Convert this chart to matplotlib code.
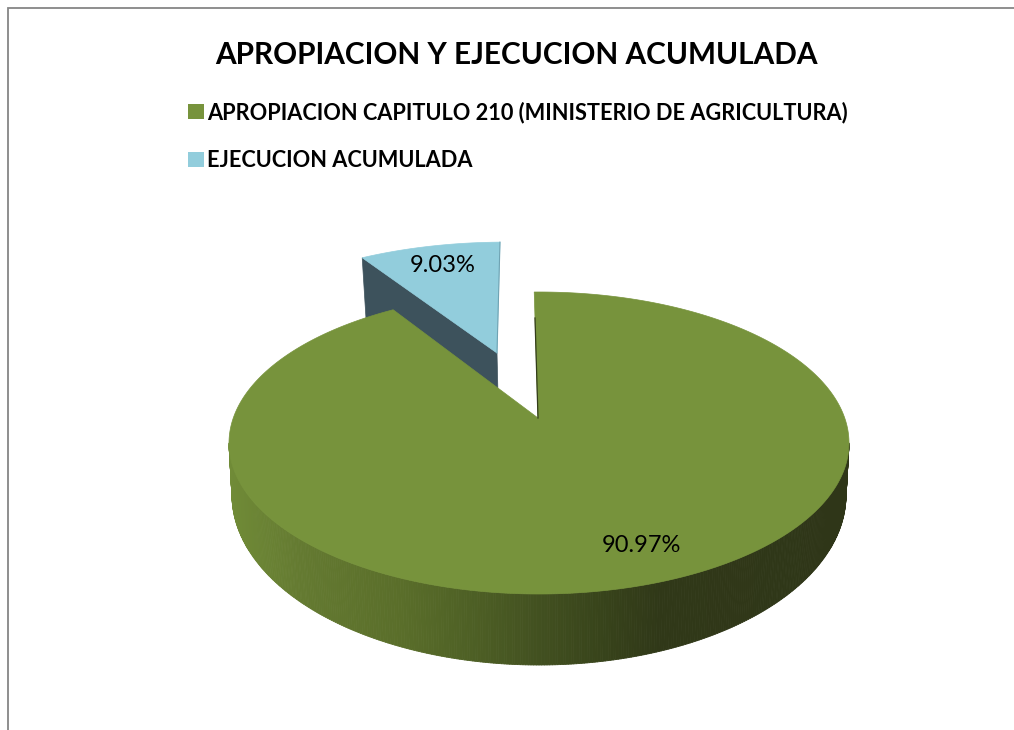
import numpy as np
import matplotlib
matplotlib.use("Agg")
import matplotlib.pyplot as plt
from matplotlib.collections import PolyCollection
from matplotlib.patches import Patch, Polygon

# --- data ---
title = "APROPIACION Y EJECUCION ACUMULADA"
categories = ["APROPIACION CAPITULO 210 (MINISTERIO DE AGRICULTURA)", "EJECUCION ACUMULADA"]
values = [90.97, 9.03]

# --- style / layout ---
GREEN, BLUE, BLUE_WALL = "#77933C", "#92CDDC", "#3D525C"
FONT = "Lato"
cx, cy, rx, ry = 539.0, 443.0, 310.0, 151.0       # top ellipse of the pie
bx, by, brx, bry = 539.0, 495.0, 307.0, 170.0     # bottom rim of the side wall
apex = np.array([538.0, 418.0])
slant = -0.03
blue_apex = np.array([497.0, 353.0])
blue_sx, blue_sy = 0.97, 0.88
blue_shear = -0.06

fig = plt.figure(figsize=(10.14, 7.30), dpi=100)
ax = fig.add_axes([0, 0, 1, 1])
ax.set_xlim(0, 1014)
ax.set_ylim(730, 0)
ax.axis("off")

# outer frame
ax.plot([8, 8, 1014], [730, 8, 8], color="#868686", lw=1.3, solid_joinstyle="miter", zorder=1)

share = np.array(values) / sum(values)
sweep = share * 2 * np.pi


def rim_param(theta):
    """Project a pie angle (clockwise from 12 o'clock) from the apex on to the ellipse."""
    d = np.array([np.sin(theta) * rx + slant * np.cos(theta) * ry, -np.cos(theta) * ry])
    p = apex - np.array([cx, cy])
    a = (d[0] / rx) ** 2 + (d[1] / ry) ** 2
    b = 2 * (p[0] * d[0] / rx ** 2 + p[1] * d[1] / ry ** 2)
    c = (p[0] / rx) ** 2 + (p[1] / ry) ** 2 - 1
    t = (-b + np.sqrt(b * b - 4 * a * c)) / (2 * a)
    q = p + t * d
    return np.arctan2(q[0] / rx, -q[1] / ry)


t0 = rim_param(0.0)                      # just left of 12 o'clock (negative)
t1 = rim_param(sweep[0]) % (2 * np.pi)   # end of the large slice

# exploded smaller slice, with its cut wall
arc_b = np.linspace(t1, 2 * np.pi + t0, 40)
rel = np.c_[cx + rx * np.sin(arc_b) - apex[0], cy - ry * np.cos(arc_b) - apex[1]]
blue_xy = np.c_[blue_apex[0] + blue_sx * rel[:, 0] + blue_shear * blue_sy * rel[:, 1],
                blue_apex[1] + blue_sy * rel[:, 1]]
corner = blue_xy[0]
wall = [corner, blue_apex, blue_apex + [1, 42], corner + [4, 64]]
ax.add_patch(Polygon(wall, closed=True, fc=BLUE_WALL, ec=BLUE_WALL, lw=0.5, zorder=2))
ax.add_patch(Polygon(np.vstack([blue_apex, blue_xy]), closed=True, fc=BLUE, ec=BLUE, lw=0.5, zorder=3))
ax.plot([blue_apex[0], blue_xy[-1, 0]], [blue_apex[1], blue_xy[-1, 1]], color="#6FA3B3", lw=0.8, zorder=3)

# side wall of the large slice, shaded by column
ts = np.linspace(np.pi / 2, 3 * np.pi / 2, 361)
tx, ty = cx + rx * np.sin(ts), cy - ry * np.cos(ts)
ox, oy = bx + brx * np.sin(ts), by - bry * np.cos(ts)
quads = [[(tx[i], ty[i]), (tx[i + 1], ty[i + 1]), (ox[i + 1], oy[i + 1]), (ox[i], oy[i])]
         for i in range(len(ts) - 1)]
shade_x = [229, 300, 400, 470, 540, 600, 660, 849]
shade_r = [112, 100, 90, 78, 66, 56, 48, 47]
shade_g = [139, 122, 110, 96, 80, 68, 56, 54]
shade_b = [55, 49, 42, 37, 32, 27, 24, 24]
mx = (tx[:-1] + tx[1:]) / 2
cols = np.c_[np.interp(mx, shade_x, shade_r), np.interp(mx, shade_x, shade_g),
             np.interp(mx, shade_x, shade_b)] / 255
ax.add_collection(PolyCollection(quads, facecolors=cols, edgecolors=cols, linewidths=0.6, zorder=4))

# top face of the large slice
arc = np.linspace(t0, t1, 400)
arc_xy = np.c_[cx + rx * np.sin(arc), cy - ry * np.cos(arc)]
ax.add_patch(Polygon(np.vstack([apex, arc_xy]), closed=True, fc=GREEN, ec=GREEN, lw=0.5, zorder=5))
ax.plot([apex[0], apex[0] - 3], [apex[1], apex[1] - 100], color="#333D1A", lw=0.9, zorder=6)

# percentage labels
ax.text(641, 546, f"{values[0]:.2f}%", ha="center", va="center", fontsize=17, family=FONT, color="black", zorder=7)
ax.text(443, 266, f"{values[1]:.2f}%", ha="center", va="center", fontsize=17, family=FONT, color="black", zorder=7)

# title
ax.text(516, 54.5, title, ha="center", va="center", fontsize=21.4, fontweight="bold", family=FONT, color="black")

# legend
handles = [Patch(fc=GREEN, ec="none"), Patch(fc=BLUE, ec="none")]
ax.legend(handles, categories, loc="upper left", bbox_to_anchor=(188, 101.5), bbox_transform=ax.transData,
          frameon=False, borderpad=0, borderaxespad=0, handlelength=0.73, handleheight=0.68, handletextpad=0.16,
          labelspacing=1.24, prop={"family": FONT, "weight": "bold", "size": 15.7})

fig.savefig("out.png", dpi=100, facecolor="white")
